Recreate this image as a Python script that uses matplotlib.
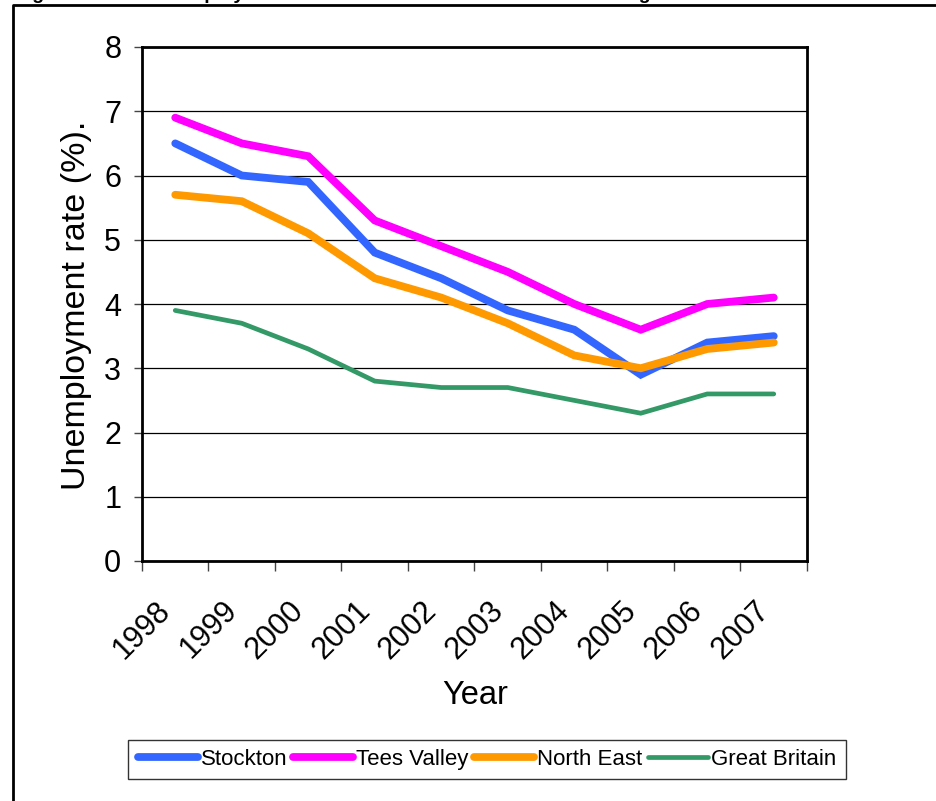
import matplotlib
matplotlib.use("Agg")
import matplotlib.pyplot as plt
from matplotlib.lines import Line2D
from matplotlib.transforms import ScaledTranslation

plt.rcParams['font.family'] = ['Liberation Sans', 'DejaVu Sans']

years = ["1998", "1999", "2000", "2001", "2002", "2003", "2004", "2005", "2006", "2007"]
stockton = [6.5, 6.0, 5.9, 4.8, 4.4, 3.9, 3.6, 2.9, 3.4, 3.5]
tees_valley = [6.9, 6.5, 6.3, 5.3, 4.9, 4.5, 4.0, 3.6, 4.0, 4.1]
north_east = [5.7, 5.6, 5.1, 4.4, 4.1, 3.7, 3.2, 3.0, 3.3, 3.4]
great_britain = [3.9, 3.7, 3.3, 2.8, 2.7, 2.7, 2.5, 2.3, 2.6, 2.6]

series = [
    ("Stockton", stockton, "#3366FF", 5.6),
    ("Tees Valley", tees_valley, "#FF00FF", 5.6),
    ("North East", north_east, "#FF9900", 5.6),
    ("Great Britain", great_britain, "#339966", 3.4),
]

W, H, DPI = 937, 801, 100
fig = plt.figure(figsize=(W / DPI, H / DPI), dpi=DPI)

def px(x0, y0, x1, y1):
    return [x0 / W, 1 - y1 / H, (x1 - x0) / W, (y1 - y0) / H]

ax = fig.add_axes(px(142, 47, 807, 561))
x = list(range(len(years)))
for name, vals, color, lw in series:
    ax.plot(x, vals, color=color, lw=lw, label=name, solid_capstyle='round',
            solid_joinstyle='miter', zorder=3)

ax.set_xlim(-0.5, len(years) - 0.5)
ax.set_ylim(0, 8)
ax.set_yticks(range(0, 9))
ax.yaxis.grid(True, color='black', lw=0.9)
ax.set_axisbelow(True)
for s in ax.spines.values():
    s.set_linewidth(2.0)
    s.set_color('black')

ax.tick_params(axis='y', labelsize=22, length=6, width=1, color='#444444', pad=9)

# category boundaries carry the tick marks; labels sit at category centres
ax.set_xticks([i - 0.5 for i in range(len(years) + 1)], minor=True)
ax.set_xticks(x)
ax.set_xticklabels([])
ax.tick_params(axis='x', which='major', length=0)
ax.tick_params(axis='x', which='minor', length=7, width=1, color='#444444')

off = ScaledTranslation(-9 / DPI, -45 / DPI, fig.dpi_scale_trans)
for i, lab in enumerate(years):
    ax.text(i, 0, lab, transform=ax.get_xaxis_transform() + off, rotation=45,
            rotation_mode='anchor', ha='right', va='center', fontsize=22)

ax.set_ylabel("Unemployment rate (%).", fontsize=24.5)
ax.yaxis.set_label_coords((92 - 142) / 665, (561 - 305) / 514)
fig.text(475 / W, 1 - 695 / H, "Year", ha='center', va='center', fontsize=23.5)

leg = fig.legend(loc='center', bbox_to_anchor=(487 / W, 1 - 759.5 / H), ncol=4,
                 fontsize=16, frameon=True, fancybox=False, edgecolor='black',
                 handlelength=2.7, handletextpad=0.14, columnspacing=0.25,
                 borderpad=0.42, borderaxespad=0)
leg.get_frame().set_linewidth(1.0)

# outer frame of the figure panel
fig.add_artist(Line2D([13 / W, 13 / W, 1.0], [0.0, 1 - 5 / H, 1 - 5 / H],
                      transform=fig.transFigure, color='black', lw=2.0))
fig.text(15 / W, 1.0 + 1 / H, "Figure 4:", fontsize=14, fontweight='bold',
         va='baseline', ha='left')
fig.text(150 / W, 1.0 + 1 / H, "Unemployment rate in Stockton and the North East against Great Britain",
         fontsize=14, fontweight='bold', va='baseline', ha='left')

fig.savefig("out.png", dpi=DPI)
